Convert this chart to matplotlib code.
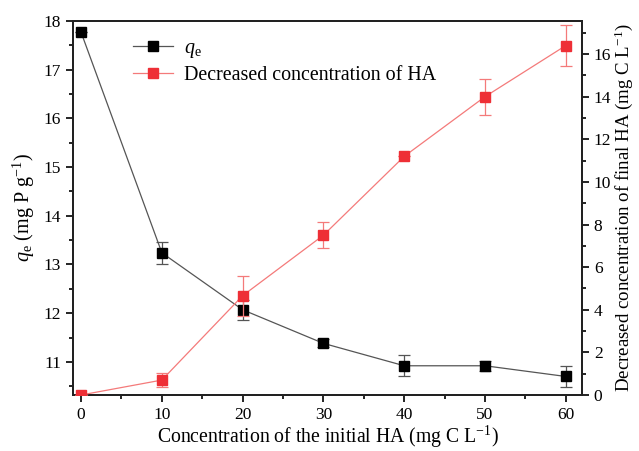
import numpy as np
import matplotlib.pyplot as plt
from matplotlib.lines import Line2D
from matplotlib.ticker import MultipleLocator

plt.rcParams['font.family'] = ['Liberation Serif', 'DejaVu Serif']
plt.rcParams['mathtext.fontset'] = 'custom'
plt.rcParams['mathtext.rm'] = 'Liberation Serif'
plt.rcParams['mathtext.it'] = 'Liberation Serif:italic'

# initial HA concentration (mg C/L)
ha_init = [0, 10, 20, 30, 40, 50, 60]

# adsorption capacity q_e (mg P/g)
qe = [17.77, 13.24, 12.07, 11.38, 10.92, 10.92, 10.70]
qe_err = [0.0, 0.22, 0.21, 0.08, 0.22, 0.10, 0.22]

# decrease of HA concentration (mg C/L)
ha_dec = [0.0, 0.70, 4.66, 7.50, 11.20, 14.00, 16.40]
ha_err = [0.0, 0.33, 0.93, 0.60, 0.0, 0.85, 0.95]

black_line = '#555555'
red_line = '#f47a7a'
red_mark = '#ee2f36'

fig = plt.figure(figsize=(6.39, 4.51), dpi=100)
ax = fig.add_axes([0.1142, 0.1242, 0.7966, 0.8292])
ax2 = ax.twinx()

ax.errorbar(ha_init, qe, yerr=qe_err, color=black_line, lw=0.9,
            marker='s', ms=6.5, mfc='black', mec='black',
            ecolor=black_line, elinewidth=0.9, capsize=4, capthick=0.9, zorder=3)
ax2.errorbar(ha_init, ha_dec, yerr=ha_err, color=red_line, lw=0.9,
             marker='s', ms=6.5, mfc=red_mark, mec=red_mark,
             ecolor=red_line, elinewidth=0.9, capsize=4, capthick=0.9, zorder=3)

ax.set_xlim(-1, 62)
ax.set_ylim(10.32, 18)
ax2.set_ylim(0, 17.55)

ax.xaxis.set_major_locator(MultipleLocator(10))
ax.xaxis.set_minor_locator(MultipleLocator(5))
ax.yaxis.set_major_locator(MultipleLocator(1))
ax.yaxis.set_minor_locator(MultipleLocator(0.5))
ax2.yaxis.set_major_locator(MultipleLocator(2))
ax2.yaxis.set_minor_locator(MultipleLocator(1))

for a in (ax, ax2):
    a.tick_params(which='major', direction='out', length=5, width=1.2, labelsize=12.5)
    a.tick_params(which='minor', direction='out', length=3, width=1.2)
    for s in a.spines.values():
        s.set_linewidth(1.4)
        s.set_color('#222222')

ax.set_xlabel(r'Concentration of the initial HA (mg C L$^{\mathrm{-1}}$)', fontsize=14.2, labelpad=1)
ax.set_ylabel(r'$q_{\mathrm{e}}$ (mg P g$^{\mathrm{-1}}$)', fontsize=14.5, labelpad=5)
ax2.set_ylabel(r'Decreased concentration of final HA (mg C L$^{\mathrm{-1}}$)', fontsize=13.6, labelpad=1)

# legend: plain line + marker, no error bars
handles = [
    Line2D([], [], color=black_line, lw=0.9, marker='s', ms=6.5, mfc='black', mec='black'),
    Line2D([], [], color=red_line, lw=0.9, marker='s', ms=6.5, mfc=red_mark, mec=red_mark),
]
labels = [r'$q_{\mathrm{e}}$', 'Decreased concentration of HA']
ax.legend(handles, labels, loc='upper left', bbox_to_anchor=(0.083, 1.0),
          frameon=False, fontsize=14.4, handlelength=2.0, handletextpad=0.55,
          labelspacing=0.3)

plt.savefig('out.png', dpi=100)
